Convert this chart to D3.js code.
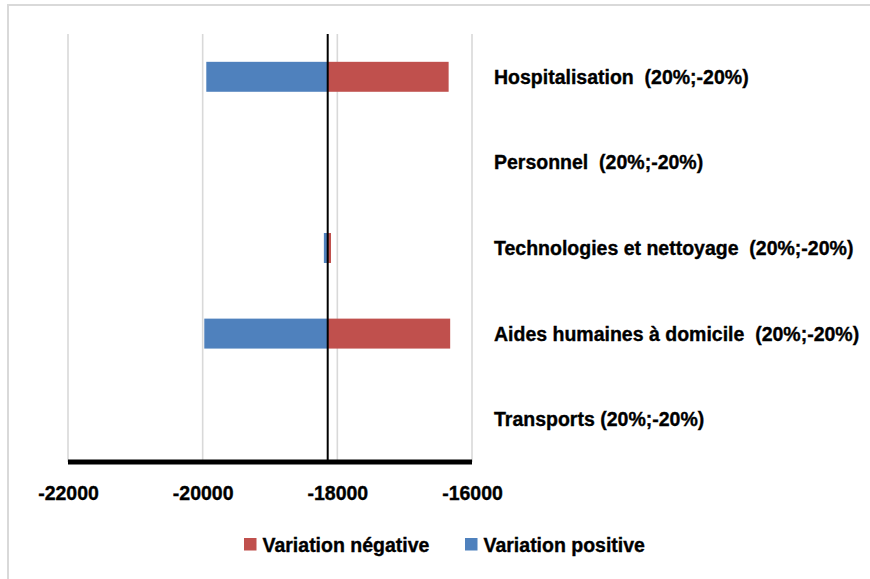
<!DOCTYPE html>
<html>
<head>
<meta charset="utf-8">
<script src="https://cdn.jsdelivr.net/npm/d3@7"></script>
<style>
  html, body { margin: 0; padding: 0; background: #fff; }
  svg { display: block; font-family: "Liberation Sans", Arial, sans-serif; }
  svg text { white-space: pre; }
</style>
</head>
<body>
<svg id="chart" width="870" height="579"></svg>
<script>
const categories = [
  "Hospitalisation  (20%;-20%)",
  "Personnel  (20%;-20%)",
  "Technologies et nettoyage  (20%;-20%)",
  "Aides humaines à domicile  (20%;-20%)",
  "Transports (20%;-20%)"
];
const baseValue = -18143;
const positiveVariation = [-19946, -18143, -18200, -19976, -18146];
const negativeVariation = [-16347, -18143, -18094, -16324, -18140];
const tickValues = [-22000, -20000, -18000, -16000];
const seriesNames = ["Variation négative", "Variation positive"];
const seriesColors = ["#C0504D", "#4F81BD"];

const FS = 19.5;
const svg = d3.select("#chart");

// outer frame
svg.append("rect")
  .attr("x", 8).attr("y", 5).attr("width", 880).attr("height", 600)
  .attr("fill", "none").attr("stroke", "#d9d9d9").attr("stroke-width", 2);

const x = d3.scaleLinear().domain([-22000, -16000]).range([68, 472]);
const y = d3.scaleBand().domain(categories).range([34, 462])
  .paddingInner(0.65).paddingOuter(0.325);

// gridlines
svg.append("g").selectAll("line").data(tickValues).join("line")
  .attr("x1", d => x(d)).attr("x2", d => x(d))
  .attr("y1", 34).attr("y2", 462)
  .attr("stroke", "#d9d9d9").attr("stroke-width", 1.6);

// bars
const rows = categories.map((c, i) => ({c, pos: positiveVariation[i], neg: negativeVariation[i]}));
svg.append("g").selectAll("rect").data(rows).join("rect")
  .attr("x", d => Math.min(x(d.pos), x(baseValue)))
  .attr("width", d => Math.abs(x(d.pos) - x(baseValue)))
  .attr("y", d => y(d.c)).attr("height", y.bandwidth())
  .attr("fill", seriesColors[1]);
svg.append("g").selectAll("rect").data(rows).join("rect")
  .attr("x", d => Math.min(x(d.neg), x(baseValue)))
  .attr("width", d => Math.abs(x(d.neg) - x(baseValue)))
  .attr("y", d => y(d.c)).attr("height", y.bandwidth())
  .attr("fill", seriesColors[0]);

// vertical axis line at base value
svg.append("line")
  .attr("x1", x(baseValue)).attr("x2", x(baseValue))
  .attr("y1", 34).attr("y2", 462)
  .attr("stroke", "#000").attr("stroke-width", 2);

function boldText(sel) {
  sel.attr("font-size", FS).attr("font-weight", "bold")
    .attr("font-family", "Liberation Sans, Arial, sans-serif")
    .attr("fill", "#000").attr("stroke", "#000").attr("stroke-width", 0.35);
}

// category labels
svg.append("g").selectAll("text").data(categories).join("text")
  .attr("x", 494)
  .attr("y", d => y(d) + y.bandwidth() / 2 + 7)
  .call(boldText)
  .text(d => d);

// x axis
const xAxis = svg.append("g").attr("transform", "translate(0,462)")
  .call(d3.axisBottom(x).tickValues(tickValues).tickSize(0).tickPadding(0).tickFormat(d3.format("d")));
xAxis.select(".domain").remove();
xAxis.selectAll("text")
  .attr("y", 38).attr("dy", null)
  .call(boldText)
  .text(d => String(d));
svg.append("line")
  .attr("x1", x(-22000)).attr("x2", x(-16000))
  .attr("y1", 462).attr("y2", 462)
  .attr("stroke", "#000").attr("stroke-width", 5);

// legend
const legendItems = [
  {name: seriesNames[0], color: seriesColors[0], x: 244},
  {name: seriesNames[1], color: seriesColors[1], x: 465}
];
const lg = svg.append("g").selectAll("g").data(legendItems).join("g")
  .attr("transform", d => `translate(${d.x},538)`);
lg.append("rect").attr("width", 12.5).attr("height", 12.5).attr("fill", d => d.color);
lg.append("text").attr("x", 18.5).attr("y", 14)
  .call(boldText)
  .text(d => d.name);
</script>
</body>
</html>
